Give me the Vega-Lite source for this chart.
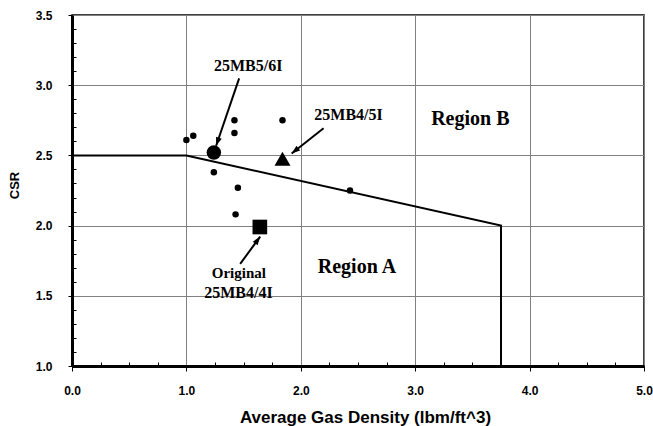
{
  "$schema": "https://vega.github.io/schema/vega-lite/v6.json",
  "width": 572,
  "height": 351,
  "autosize": "none",
  "padding": {"left": 72, "top": 15, "right": 9, "bottom": 60},
  "background": "white",
  "config": {
    "view": {"stroke": "#000000", "strokeWidth": 1.5},
    "axis": {"labelFont": "Liberation Sans", "titleFont": "Liberation Sans", "labelColor": "#000", "titleColor": "#000", "tickColor": "#000", "domainColor": "#000"}
  },
  "datasets": {
    "boundary": [
      {"x": 0, "y": 2.5},
      {"x": 1.0, "y": 2.5},
      {"x": 3.75, "y": 2.0},
      {"x": 3.75, "y": 1.0}
    ],
    "tests": [
      {"x": 1.00, "y": 2.61},
      {"x": 1.06, "y": 2.64},
      {"x": 1.42, "y": 2.75},
      {"x": 1.42, "y": 2.66},
      {"x": 1.84, "y": 2.75},
      {"x": 1.24, "y": 2.38},
      {"x": 1.45, "y": 2.27},
      {"x": 1.43, "y": 2.08},
      {"x": 2.43, "y": 2.25}
    ],
    "designs": [
      {"name": "25MB5/6I", "x": 1.24, "y": 2.52},
      {"name": "25MB4/5I", "x": 1.84, "y": 2.476},
      {"name": "Original 25MB4/4I", "x": 1.642, "y": 1.99}
    ],
    "arrows": [
      {"name": "25MB5/6I", "x": 1.461, "y": 3.049, "x2": 1.26, "y2": 2.569},
      {"name": "25MB4/5I", "x": 2.199, "y": 2.693, "x2": 1.92, "y2": 2.514},
      {"name": "Original 25MB4/4I", "x": 1.47, "y": 1.727, "x2": 1.645, "y2": 1.922}
    ],
    "labels": [
      {"text": "25MB5/6I", "kind": "code", "x": 1.54, "y": 3.103},
      {"text": "25MB4/5I", "kind": "code", "x": 2.417, "y": 2.752},
      {"text": "Original", "kind": "word", "x": 1.458, "y": 1.625},
      {"text": "25MB4/4I", "kind": "code", "x": 1.455, "y": 1.482},
      {"text": "Region B", "kind": "region", "x": 3.482, "y": 2.717},
      {"text": "Region A", "kind": "region", "x": 2.491, "y": 1.66}
    ]
  },
  "resolve": {"axis": {"x": "independent", "y": "independent"}},
  "layer": [
    {
      "data": {"name": "boundary"},
      "mark": {"type": "line", "color": "#000", "strokeWidth": 2},
      "encoding": {
        "x": {"field": "x", "type": "quantitative",
          "scale": {"domain": [0, 5], "nice": false, "zero": false},
          "axis": {"orient": "bottom", "values": [0, 1, 2, 3, 4, 5], "format": ".1f", "grid": true, "gridColor": "#808080", "gridWidth": 1,
            "tickSize": 5, "tickWidth": 1, "domainWidth": 3, "labelFontWeight": "bold", "labelFontSize": 12, "labelPadding": 14,
            "labelFlush": false, "labelOverlap": false, "labelBound": false,
            "title": "Average Gas Density (lbm/ft^3)", "titleFontWeight": "bold", "titleFontSize": 17,
            "titleX": 293, "titleY": 56, "titleBaseline": "alphabetic", "titleAlign": "center"}},
        "y": {"field": "y", "type": "quantitative",
          "scale": {"domain": [1, 3.5], "nice": false, "zero": false},
          "axis": {"orient": "left", "values": [1, 1.5, 2, 2.5, 3, 3.5], "format": ".1f", "grid": true, "gridColor": "#808080", "gridWidth": 1,
            "tickSize": 4, "tickWidth": 1, "domainWidth": 3, "labelFontWeight": "bold", "labelFontSize": 12, "labelPadding": 16,
            "labelOverlap": false, "labelBound": false,
            "title": "CSR", "titleFontWeight": "bold", "titleFontSize": 13,
            "titleX": -54, "titleY": 170, "titleAngle": 270, "titleBaseline": "alphabetic", "titleAlign": "center"}},
        "order": {"value": null}
      }
    },
    {
      "data": {"name": "tests"},
      "mark": {"type": "point", "shape": "circle", "filled": true, "color": "#000", "opacity": 1, "size": 42},
      "encoding": {
        "x": {"field": "x", "type": "quantitative", "scale": {"domain": [0, 5], "nice": false, "zero": false},
          "axis": {"orient": "bottom", "values": [0.25, 0.5, 0.75, 1.25, 1.5, 1.75, 2.25, 2.5, 2.75, 3.25, 3.5, 3.75, 4.25, 4.5, 4.75],
            "labels": false, "domain": false, "grid": false, "ticks": true, "tickSize": -4, "tickWidth": 1, "title": null}},
        "y": {"field": "y", "type": "quantitative", "scale": {"domain": [1, 3.5], "nice": false, "zero": false},
          "axis": {"orient": "left", "values": [1.1, 1.2, 1.3, 1.4, 1.6, 1.7, 1.8, 1.9, 2.1, 2.2, 2.3, 2.4, 2.6, 2.7, 2.8, 2.9, 3.1, 3.2, 3.3, 3.4],
            "labels": false, "domain": false, "grid": false, "ticks": true, "tickSize": -4, "tickWidth": 1, "title": null}}
      }
    },
    {
      "data": {"name": "designs"},
      "transform": [{"filter": "datum.name === '25MB5/6I'"}],
      "mark": {"type": "point", "shape": "circle", "filled": true, "color": "#000", "opacity": 1, "size": 210},
      "encoding": {
        "x": {"field": "x", "type": "quantitative", "axis": null},
        "y": {"field": "y", "type": "quantitative", "axis": null}
      }
    },
    {
      "data": {"name": "designs"},
      "transform": [{"filter": "datum.name === '25MB4/5I'"}],
      "mark": {"type": "point", "shape": "triangle-up", "filled": true, "color": "#000", "opacity": 1, "size": 256},
      "encoding": {
        "x": {"field": "x", "type": "quantitative", "axis": null},
        "y": {"field": "y", "type": "quantitative", "axis": null}
      }
    },
    {
      "data": {"name": "designs"},
      "transform": [{"filter": "datum.name === 'Original 25MB4/4I'"}],
      "mark": {"type": "point", "shape": "square", "filled": true, "color": "#000", "opacity": 1, "size": 215},
      "encoding": {
        "x": {"field": "x", "type": "quantitative", "axis": null},
        "y": {"field": "y", "type": "quantitative", "axis": null}
      }
    },
    {
      "data": {"name": "arrows"},
      "mark": {"type": "rule", "color": "#000", "strokeWidth": 2},
      "encoding": {
        "x": {"field": "x", "type": "quantitative", "axis": null},
        "y": {"field": "y", "type": "quantitative", "axis": null},
        "x2": {"field": "x2"},
        "y2": {"field": "y2"}
      }
    },
    {
      "data": {"name": "arrows"},
      "transform": [{"filter": "datum.name === '25MB5/6I'"}],
      "mark": {"type": "point", "shape": "M0,0L-0.6,1.7L0.6,1.7Z", "filled": true, "color": "#000", "opacity": 1, "size": 100},
      "encoding": {
        "x": {"field": "x2", "type": "quantitative", "axis": null},
        "y": {"field": "y2", "type": "quantitative", "axis": null},
        "angle": {"value": 198.8}
      }
    },
    {
      "data": {"name": "arrows"},
      "transform": [{"filter": "datum.name === '25MB4/5I'"}],
      "mark": {"type": "point", "shape": "M0,0L-0.6,1.7L0.6,1.7Z", "filled": true, "color": "#000", "opacity": 1, "size": 100},
      "encoding": {
        "x": {"field": "x2", "type": "quantitative", "axis": null},
        "y": {"field": "y2", "type": "quantitative", "axis": null},
        "angle": {"value": 231.6}
      }
    },
    {
      "data": {"name": "arrows"},
      "transform": [{"filter": "datum.name === 'Original 25MB4/4I'"}],
      "mark": {"type": "point", "shape": "M0,0L-0.6,1.7L0.6,1.7Z", "filled": true, "color": "#000", "opacity": 1, "size": 100},
      "encoding": {
        "x": {"field": "x2", "type": "quantitative", "axis": null},
        "y": {"field": "y2", "type": "quantitative", "axis": null},
        "angle": {"value": 36}
      }
    },
    {
      "data": {"name": "labels"},
      "transform": [{"filter": "datum.kind === 'code'"}],
      "mark": {"type": "text", "font": "Liberation Serif", "fontWeight": "bold", "fontSize": 16, "color": "#000", "align": "center", "baseline": "alphabetic"},
      "encoding": {
        "x": {"field": "x", "type": "quantitative", "axis": null},
        "y": {"field": "y", "type": "quantitative", "axis": null},
        "text": {"field": "text"}
      }
    },
    {
      "data": {"name": "labels"},
      "transform": [{"filter": "datum.kind === 'word'"}],
      "mark": {"type": "text", "font": "Liberation Serif", "fontWeight": "bold", "fontSize": 15, "color": "#000", "align": "center", "baseline": "alphabetic"},
      "encoding": {
        "x": {"field": "x", "type": "quantitative", "axis": null},
        "y": {"field": "y", "type": "quantitative", "axis": null},
        "text": {"field": "text"}
      }
    },
    {
      "data": {"name": "labels"},
      "transform": [{"filter": "datum.kind === 'region'"}],
      "mark": {"type": "text", "font": "Liberation Serif", "fontWeight": "bold", "fontSize": 20, "color": "#000", "align": "center", "baseline": "alphabetic"},
      "encoding": {
        "x": {"field": "x", "type": "quantitative", "axis": null},
        "y": {"field": "y", "type": "quantitative", "axis": null},
        "text": {"field": "text"}
      }
    }
  ]
}
